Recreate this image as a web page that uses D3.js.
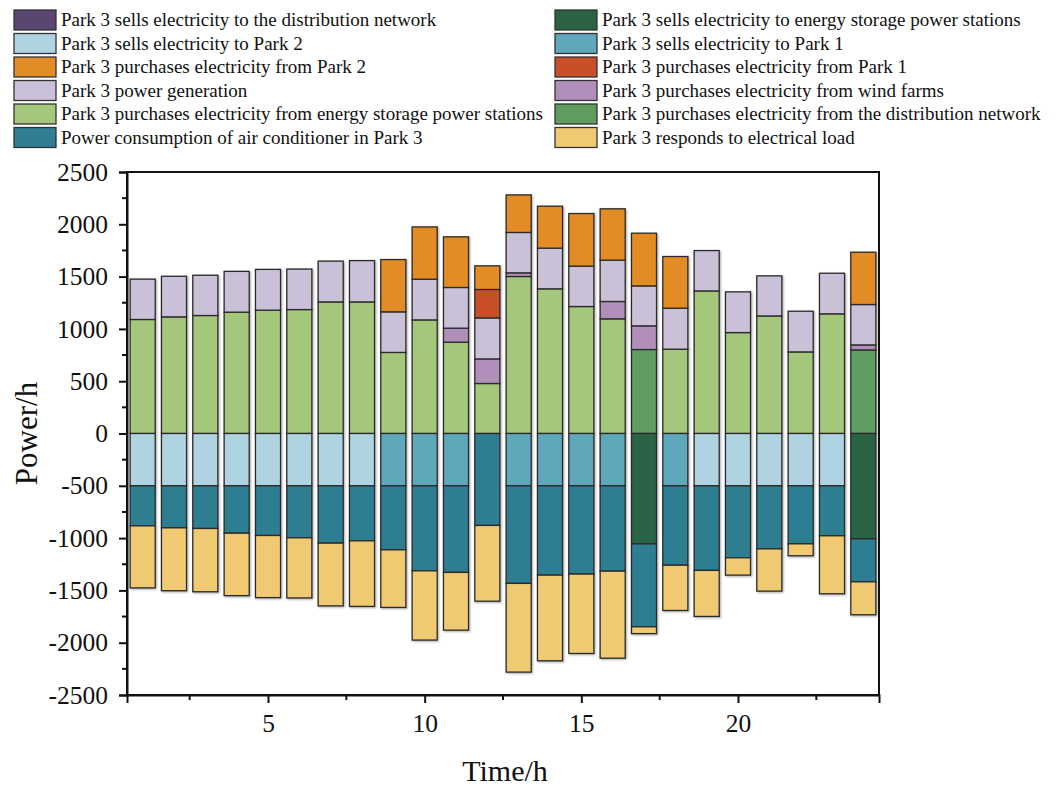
<!DOCTYPE html>
<html>
<head>
<meta charset="utf-8">
<script src="https://cdn.jsdelivr.net/npm/d3@7/dist/d3.min.js"></script>
<style>
  html, body { margin: 0; padding: 0; background: #fff; }
  svg { display: block; font-family: "Liberation Serif", "Times New Roman", serif; }
</style>
</head>
<body>
<svg id="chart" width="1057" height="789"></svg>
<script>
// Hours of the day
const hours = d3.range(1, 25);

// Sources (positive side, stacked upward from zero)
const buyFromStorage   = [1090,1115,1128,1160,1179,1185,1258,1258,775,1086,873,478,1501,1383,1214,1096,0,806,1363,965,1124,780,1144,0];
const buyFromGrid      = [0,0,0,0,0,0,0,0,0,0,0,0,0,0,0,0,803,0,0,0,0,0,0,799];
const buyFromWind      = [0,0,0,0,0,0,0,0,0,0,134,235,35,0,0,166,226,0,0,0,0,0,0,48];
const generation       = [386,388,385,390,390,387,390,395,388,389,389,392,386,389,386,395,382,392,386,389,383,389,388,386];
const buyFromPark1     = [0,0,0,0,0,0,0,0,0,0,0,272,0,0,0,0,0,0,0,0,0,0,0,0];
const buyFromPark2     = [0,0,0,0,0,0,0,0,500,500,484,226,359,401,503,491,504,494,0,0,0,0,0,500];

// Uses (negative side, stacked downward from zero)
const sellToGrid       = [0,0,0,0,0,0,0,0,0,0,0,0,0,0,0,0,0,0,0,0,0,0,0,0];
const sellToStorage    = [0,0,0,0,0,0,0,0,0,0,0,0,0,0,0,0,1055,0,0,0,0,0,0,1007];
const sellToPark2      = [500,500,500,500,500,500,500,500,0,0,0,0,0,0,0,0,0,0,500,500,500,500,500,0];
const sellToPark1      = [0,0,0,0,0,0,0,0,500,500,500,0,500,500,500,500,0,500,0,0,0,0,0,0];
const airConditioner   = [383,402,408,453,475,497,548,526,612,813,828,879,933,854,844,816,793,759,809,688,603,555,478,411];
const electricalLoad   = [593,601,605,597,594,575,600,627,551,662,552,724,848,819,759,832,65,433,440,166,404,114,554,315];

// Axis ticks
const yTicks = [-2500,-2000,-1500,-1000,-500,0,500,1000,1500,2000,2500];
const xTicks = [5,10,15,20];

// Legend entries, in two columns
const legendLeft = [
  {name: "Park 3 sells electricity to the distribution network", color: "#5a4670"},
  {name: "Park 3 sells electricity to Park 2", color: "#afd3e0"},
  {name: "Park 3 purchases electricity from Park 2", color: "#e38c27"},
  {name: "Park 3 power generation", color: "#cac0d7"},
  {name: "Park 3 purchases electricity from energy storage power stations", color: "#a4c77c"},
  {name: "Power consumption of air conditioner in Park 3", color: "#2f7e91"}
];
const legendRight = [
  {name: "Park 3 sells electricity to energy storage power stations", color: "#2b6244"},
  {name: "Park 3 sells electricity to Park 1", color: "#5fa7ba"},
  {name: "Park 3 purchases electricity from Park 1", color: "#c84f28"},
  {name: "Park 3 purchases electricity from wind farms", color: "#b18fbb"},
  {name: "Park 3 purchases electricity from the distribution network", color: "#5e9c60"},
  {name: "Park 3 responds to electrical load", color: "#f0ca73"}
];

const colorOf = {};
[...legendLeft, ...legendRight].forEach(d => colorOf[d.name] = d.color);

// Stacking order for each side
const upSeries = [
  {name: "Park 3 purchases electricity from the distribution network", values: buyFromGrid},
  {name: "Park 3 purchases electricity from energy storage power stations", values: buyFromStorage},
  {name: "Park 3 purchases electricity from wind farms", values: buyFromWind},
  {name: "Park 3 power generation", values: generation},
  {name: "Park 3 purchases electricity from Park 1", values: buyFromPark1},
  {name: "Park 3 purchases electricity from Park 2", values: buyFromPark2}
];
const downSeries = [
  {name: "Park 3 sells electricity to the distribution network", values: sellToGrid},
  {name: "Park 3 sells electricity to energy storage power stations", values: sellToStorage},
  {name: "Park 3 sells electricity to Park 2", values: sellToPark2},
  {name: "Park 3 sells electricity to Park 1", values: sellToPark1},
  {name: "Power consumption of air conditioner in Park 3", values: airConditioner},
  {name: "Park 3 responds to electrical load", values: electricalLoad}
];

const svg = d3.select("#chart");
const plot = {left: 127, right: 879, top: 172, bottom: 695};

const x = d3.scaleLinear().domain([0.5, 24.5]).range([plot.left, plot.right]);
const y = d3.scaleLinear().domain([-2500, 2500]).range([plot.bottom, plot.top]);
const barW = (x(1) - x(0)) * 0.8;

// Build segment list
const segments = [];
hours.forEach((h, i) => {
  let acc = 0;
  upSeries.forEach(s => {
    const v = s.values[i];
    if (v > 0) { segments.push({h, y0: acc, y1: acc + v, color: colorOf[s.name]}); acc += v; }
  });
  acc = 0;
  downSeries.forEach(s => {
    const v = s.values[i];
    if (v > 0) { segments.push({h, y0: acc - v, y1: acc, color: colorOf[s.name]}); acc -= v; }
  });
});

// soft shadow around bars
const defs = svg.append("defs");
const f = defs.append("filter").attr("id", "soft").attr("x", "-10%").attr("y", "-10%").attr("width", "120%").attr("height", "120%");
f.append("feGaussianBlur").attr("in", "SourceAlpha").attr("stdDeviation", 0.8).attr("result", "b");
f.append("feOffset").attr("in", "b").attr("dx", 0.5).attr("dy", 0.5).attr("result", "o");
f.append("feComponentTransfer").attr("in", "o").attr("result", "o2")
  .append("feFuncA").attr("type", "linear").attr("slope", 0.35);
const fm = f.append("feMerge");
fm.append("feMergeNode").attr("in", "o2");
fm.append("feMergeNode").attr("in", "SourceGraphic");

svg.append("g").attr("filter", "url(#soft)")
  .selectAll("rect").data(segments).join("rect")
  .attr("x", d => x(d.h) - barW / 2)
  .attr("width", barW)
  .attr("y", d => y(d.y1))
  .attr("height", d => y(d.y0) - y(d.y1))
  .attr("fill", d => d.color)
  .attr("stroke", "#2a2a2a")
  .attr("stroke-width", 1.3);

// Frame
svg.append("rect")
  .attr("x", plot.left).attr("y", plot.top)
  .attr("width", plot.right - plot.left).attr("height", plot.bottom - plot.top)
  .attr("fill", "none").attr("stroke", "#111").attr("stroke-width", 2);

const plainNum = d => String(d);

// Y axis
const yAxis = d3.axisLeft(y).tickValues(yTicks).tickFormat(plainNum).tickSize(8).tickPadding(11);
const gy = svg.append("g").attr("transform", `translate(${plot.left},0)`).call(yAxis);
gy.select(".domain").attr("stroke", "#111").attr("stroke-width", 2);
gy.selectAll(".tick line").attr("stroke", "#111").attr("stroke-width", 2);
gy.selectAll(".tick text").attr("font-size", 25.5).attr("fill", "#111")
  .attr("font-family", "Liberation Serif, Times New Roman, serif");
const yMinor = d3.range(-2250, 2500, 500);
svg.append("g").selectAll("line").data(yMinor).join("line")
  .attr("x1", plot.left - 5).attr("x2", plot.left)
  .attr("y1", d => y(d)).attr("y2", d => y(d))
  .attr("stroke", "#111").attr("stroke-width", 2);

// X axis
const xAxis = d3.axisBottom(x).tickValues(xTicks).tickFormat(plainNum).tickSize(8).tickPadding(11);
const gx = svg.append("g").attr("transform", `translate(0,${plot.bottom})`).call(xAxis);
gx.select(".domain").attr("stroke", "#111").attr("stroke-width", 2);
gx.selectAll(".tick line").attr("stroke", "#111").attr("stroke-width", 2);
gx.selectAll(".tick text").attr("font-size", 25.5).attr("fill", "#111")
  .attr("font-family", "Liberation Serif, Times New Roman, serif");
const xMinor = [2.5, 7.5, 12.5, 17.5, 22.5];
svg.append("g").selectAll("line").data(xMinor).join("line")
  .attr("x1", d => x(d)).attr("x2", d => x(d))
  .attr("y1", plot.bottom).attr("y2", plot.bottom + 5)
  .attr("stroke", "#111").attr("stroke-width", 2);

// Axis titles
svg.append("text")
  .attr("x", (plot.left + plot.right) / 2 + 2).attr("y", 781)
  .attr("text-anchor", "middle").attr("font-size", 30).attr("fill", "#111")
  .text("Time/h");
svg.append("text")
  .attr("transform", `translate(37,${(plot.top + plot.bottom) / 2}) rotate(-90)`)
  .attr("text-anchor", "middle").attr("font-size", 31).attr("fill", "#111")
  .text("Power/h");

// Legend
function drawLegend(items, sx, tx) {
  const g = svg.append("g");
  items.forEach((d, i) => {
    const cy = 20 + i * 23.5;
    g.append("rect").attr("x", sx).attr("y", cy - 10).attr("width", 42).attr("height", 20)
      .attr("fill", d.color).attr("stroke", "#333").attr("stroke-width", 1.3);
    g.append("text").attr("x", tx).attr("y", cy + 6)
      .attr("font-size", 19).attr("fill", "#111").text(d.name);
  });
}
drawLegend(legendLeft, 14, 61);
drawLegend(legendRight, 555, 602);
</script>
</body>
</html>
